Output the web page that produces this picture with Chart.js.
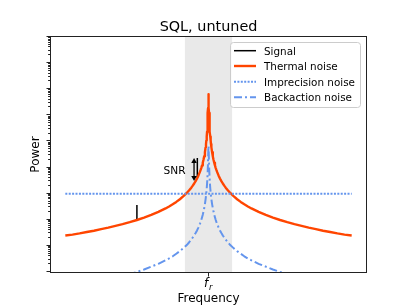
<!DOCTYPE html>
<html>
<head>
<meta charset="utf-8">
<script src="https://cdn.jsdelivr.net/npm/chart.js@4.4.1/dist/chart.umd.min.js"></script>
<style>
  html, body { margin: 0; padding: 0; background: #fff; }
  canvas { display: block; }
</style>
</head>
<body>
<canvas id="my-chart" width="407" height="306"></canvas>
<script>
'use strict';

//************** DATA **************
let freqX = [
  0, 0.05, 0.1, 0.15, 0.2, 0.25, 0.3, 0.35, 0.4, 0.45, 0.5, 0.55, 0.6, 0.65, 0.7, 0.725, 0.75, 0.775, 0.8, 0.825,
  0.85, 0.865, 0.88, 0.89, 0.9, 0.91, 0.92, 0.93, 0.94, 0.945, 0.95, 0.955, 0.96, 0.965, 0.97, 0.975, 0.98, 0.9825,
  0.985, 0.9875, 0.99, 0.9915, 0.993, 0.9945, 0.996, 0.997, 0.998, 0.999,
  1.0,
  1.001, 1.002, 1.003, 1.004, 1.0055, 1.007, 1.0085, 1.01, 1.0125, 1.015, 1.0175, 1.02, 1.025, 1.03, 1.035, 1.04,
  1.045, 1.05, 1.055, 1.06, 1.07, 1.08, 1.09, 1.1, 1.11, 1.12, 1.135, 1.15, 1.175, 1.2, 1.225, 1.25, 1.275, 1.3,
  1.35, 1.4, 1.45, 1.5, 1.55, 1.6, 1.65, 1.7, 1.75, 1.8, 1.85, 1.9, 1.95, 2.0];

let thermalNoise = [
  25, 27, 30, 34, 38, 44, 50, 58, 68, 81, 98, 121, 153, 200, 272, 324, 392, 484, 613, 800,
  1089, 1344, 1701, 2025, 2450, 3025, 3828, 5000, 6806, 8100, 9800, 12100, 15300, 20000, 27200, 39000, 61000, 79000,
  109000, 153000, 236000, 322000, 464000, 720000, 1240000, 1910000, 3100000, 5100000,
  6500000,
  5100000, 3100000, 1910000, 1240000, 720000, 464000, 322000, 236000, 153000, 109000, 79000, 61000, 39000, 27200, 20000, 15300,
  12100, 9800, 8100, 6806, 5000, 3828, 3025, 2450, 2025, 1701, 1344, 1089, 800, 613, 484, 392, 324, 272,
  200, 153, 121, 98, 81, 68, 58, 50, 44, 38, 34, 30, 27, 25];

let backactionNoise = [
  0.25, 0.28, 0.31, 0.35, 0.39, 0.45, 0.51, 0.6, 0.7, 0.83, 1.0, 1.25, 1.6, 2.06, 2.8, 3.3, 4.0, 5.0, 6.3, 8.2,
  11, 13.8, 17.5, 20.9, 25, 31, 39, 51.5, 70, 83, 100, 125, 157, 206, 280, 400, 630, 810,
  1120, 1580, 2430, 3300, 4800, 7400, 12800, 19700, 32000, 52500,
  67000,
  52500, 32000, 19700, 12800, 7400, 4800, 3300, 2430, 1580, 1120, 810, 630, 400, 280, 206, 157,
  125, 100, 83, 70, 51.5, 39, 31, 25, 20.9, 17.5, 13.8, 11, 8.2, 6.3, 5.0, 4.0, 3.3, 2.8,
  2.06, 1.6, 1.25, 1.0, 0.83, 0.7, 0.6, 0.51, 0.45, 0.39, 0.35, 0.31, 0.28, 0.25];

let imprecisionX = [0, 2];
let imprecisionNoise = [1000, 1000];

// signal spikes: base sits on thermal curve, top is the signal peak
let signalX = [0.5, 0.922];
let signalBase = [98, 4030];
let signalTop = [372, 23400];

// SNR arrow and resonance band
let snrX = 0.899;
let snrRange = [3050, 23400];
let bandRange = [0.835, 1.165];

let yMin = 1;
let yMax = 1e9;
let xMin = -0.1;
let xMax = 2.1;
let resonance = 1.0;

//************** COLORS **************
let orange = '#ff4500';
let blue = '#6495ed';
let font = '"DejaVu Sans", sans-serif';

function pairs(xs, ys) {
  let out = [];
  for (let i = 0; i < xs.length; i++) {
    out.push({ x: xs[i], y: ys[i] });
  }
  return out;
}

function signalData() {
  let out = [];
  for (let i = 0; i < signalX.length; i++) {
    out.push({ x: signalX[i], y: signalBase[i] });
    out.push({ x: signalX[i], y: signalTop[i] });
    out.push({ x: signalX[i] + 0.01, y: null });
  }
  return out;
}

//************** PLUGIN: band, axes, text, legend **************
let decoPlugin = {
  id: 'deco',
  beforeDatasetsDraw(chart) {
    let c = chart.ctx;
    let a = chart.chartArea;
    let xs = chart.scales.x;
    let x0 = xs.getPixelForValue(bandRange[0]);
    let x1 = xs.getPixelForValue(bandRange[1]);
    c.save();
    c.fillStyle = '#e9e9e9';
    c.fillRect(x0, a.top, x1 - x0, a.bottom - a.top);
    c.restore();
  },
  afterDatasetsDraw(chart) {
    let c = chart.ctx;
    let a = chart.chartArea;
    let xs = chart.scales.x;
    let ys = chart.scales.y;
    c.save();

    // SNR arrow
    let ax = xs.getPixelForValue(snrX);
    let ay0 = ys.getPixelForValue(snrRange[1]);
    let ay1 = ys.getPixelForValue(snrRange[0]);
    c.strokeStyle = '#000';
    c.fillStyle = '#000';
    c.lineWidth = 1.3;
    c.beginPath();
    c.moveTo(ax, ay0 + 3);
    c.lineTo(ax, ay1 - 3);
    c.stroke();
    c.beginPath();
    c.moveTo(ax, ay0);
    c.lineTo(ax - 2.8, ay0 + 5);
    c.lineTo(ax + 2.8, ay0 + 5);
    c.closePath();
    c.fill();
    c.beginPath();
    c.moveTo(ax, ay1);
    c.lineTo(ax - 2.8, ay1 - 5);
    c.lineTo(ax + 2.8, ay1 - 5);
    c.closePath();
    c.fill();

    c.font = '10.6px ' + font;
    c.textAlign = 'right';
    c.textBaseline = 'alphabetic';
    c.fillText('SNR', ax - 8.5, (ay0 + ay1) / 2 + 4.3);

    // axes box
    c.strokeStyle = '#222';
    c.lineWidth = 1;
    c.strokeRect(Math.round(a.left) - 0.5, Math.round(a.top) - 0.5, Math.round(a.right - a.left) + 1, Math.round(a.bottom - a.top) + 1);

    // y ticks (log, major + minor)
    c.beginPath();
    for (let dec = 0; dec < 9; dec++) {
      for (let m = 1; m <= 9; m++) {
        let v = m * Math.pow(10, dec);
        let py = Math.round(ys.getPixelForValue(v)) - 0.5;
        let len = m === 1 ? 4 : 2.4;
        c.moveTo(a.left - 0.5, py);
        c.lineTo(a.left - 0.5 - len, py);
      }
    }
    let ptop = Math.round(ys.getPixelForValue(yMax)) - 0.5;
    c.moveTo(a.left - 0.5, ptop);
    c.lineTo(a.left - 4.5, ptop);
    // x tick at f_r
    let fx = Math.round(xs.getPixelForValue(resonance)) - 0.5;
    c.moveTo(fx, a.bottom + 0.5);
    c.lineTo(fx, a.bottom + 4.5);
    c.stroke();

    // tick label f_r
    c.fillStyle = '#000';
    c.textAlign = 'left';
    c.font = 'italic 12px ' + font;
    c.fillText('f', fx - 4.5, 287);
    c.font = 'italic 8.4px ' + font;
    c.fillText('r', fx + 0.5, 290);

    // axis titles
    c.font = '12px ' + font;
    c.textAlign = 'center';
    c.fillText('Frequency', (a.left + a.right) / 2, 302);
    c.save();
    c.translate(38.5, (a.top + a.bottom) / 2);
    c.rotate(-Math.PI / 2);
    c.fillText('Power', 0, 0);
    c.restore();

    // title
    c.font = '14.4px ' + font;
    c.fillText('SQL, untuned', (a.left + a.right) / 2, 31);

    // legend
    let lx = 230.5, ly = 42.5, lw = 130, lh = 65, r = 3;
    c.fillStyle = 'rgba(255,255,255,0.8)';
    c.strokeStyle = '#cccccc';
    c.lineWidth = 1;
    c.beginPath();
    c.moveTo(lx + r, ly);
    c.lineTo(lx + lw - r, ly);
    c.arcTo(lx + lw, ly, lx + lw, ly + r, r);
    c.lineTo(lx + lw, ly + lh - r);
    c.arcTo(lx + lw, ly + lh, lx + lw - r, ly + lh, r);
    c.lineTo(lx + r, ly + lh);
    c.arcTo(lx, ly + lh, lx, ly + lh - r, r);
    c.lineTo(lx, ly + r);
    c.arcTo(lx, ly, lx + r, ly, r);
    c.closePath();
    c.fill();
    c.stroke();

    let rows = [50.7, 66, 81.7, 97.3];
    let sets = chart.data.datasets;
    c.font = '10.4px ' + font;
    c.textAlign = 'left';
    for (let i = 0; i < sets.length; i++) {
      let ds = sets[i];
      c.strokeStyle = ds.borderColor;
      c.lineWidth = ds.borderWidth;
      c.setLineDash(ds.borderDash || []);
      c.beginPath();
      c.moveTo(234, rows[i]);
      c.lineTo(256, rows[i]);
      c.stroke();
      c.setLineDash([]);
      c.fillStyle = '#000';
      c.fillText(ds.label, 264, rows[i] + 3.8);
    }
    c.restore();
  }
};

//************** CHART **************
let ctx = document.getElementById('my-chart');

let chartObj = {
  type: 'line',
  data: {
    datasets: [{
      label: 'Signal',
      data: signalData(),
      borderColor: '#000',
      borderWidth: 1.5,
      pointRadius: 0,
      spanGaps: false,
      order: 4
    },
    {
      label: 'Thermal noise',
      data: pairs(freqX, thermalNoise),
      borderColor: orange,
      borderWidth: 2.4,
      pointRadius: 0,
      order: 3
    },
    {
      label: 'Imprecision noise',
      data: pairs(imprecisionX, imprecisionNoise),
      borderColor: blue,
      borderWidth: 2,
      borderDash: [2, 1.4],
      pointRadius: 0,
      order: 2
    },
    {
      label: 'Backaction noise',
      data: pairs(freqX, backactionNoise),
      borderColor: blue,
      borderWidth: 2,
      borderDash: [8, 3, 2, 3],
      pointRadius: 0,
      order: 1
    }]
  },
  options: {
    responsive: false,
    animation: false,
    devicePixelRatio: 1,
    layout: {
      padding: { left: 51, top: 37, right: 41, bottom: 34 }
    },
    scales: {
      x: { type: 'linear', min: xMin, max: xMax, display: false },
      y: { type: 'logarithmic', min: yMin, max: yMax, display: false }
    },
    plugins: {
      legend: { display: false },
      tooltip: { enabled: false }
    },
    elements: {
      line: { tension: 0, fill: false, borderCapStyle: 'butt', borderJoinStyle: 'round' }
    }
  },
  plugins: [decoPlugin]
};

new Chart(ctx, chartObj);
</script>
</body>
</html>
